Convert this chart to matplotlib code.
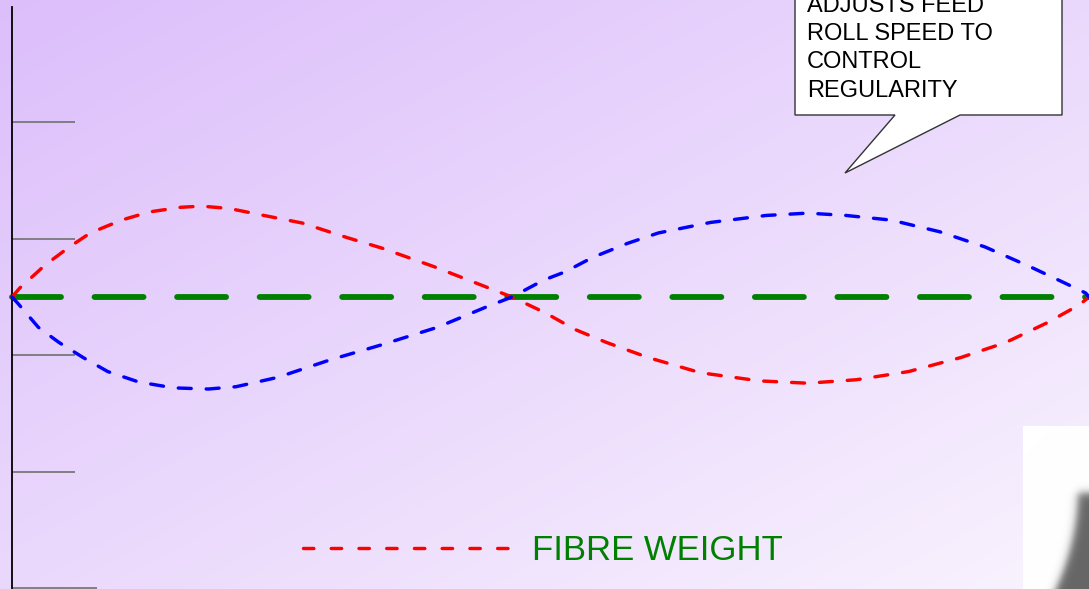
import numpy as np
import matplotlib
matplotlib.use("Agg")
import matplotlib.pyplot as plt
from matplotlib.lines import Line2D
from matplotlib.patches import Polygon

plt.rcParams["font.family"] = ["Liberation Sans", "DejaVu Sans"]

# position along the cycle (deg) and deviation for the two wave traces
red_x = [0, 2.6, 11.1, 19.2, 26.2, 36.6, 45.9, 56.4, 63.3, 72.6, 84.2, 97.0,
         112.0, 123.6, 141.1, 158.5, 167.1, 177.8, 188.3, 198.7, 212.7, 230.1,
         249.8, 266.0, 282.3, 299.7, 317.1, 332.2, 346.1, 356.6, 360]
red_y = [0, 0.077, 0.275, 0.43, 0.55, 0.66, 0.73, 0.77, 0.78, 0.76, 0.70, 0.635,
         0.51, 0.42, 0.26, 0.086, 0, -0.13, -0.28, -0.39, -0.52, -0.65,
         -0.72, -0.74, -0.71, -0.64, -0.52, -0.39, -0.22, -0.07, 0]

blue_x = [0, 1.8, 8.8, 15.7, 23.8, 32.0, 42.4, 54.0, 65.6, 74.9, 88.8, 106.3,
          123.6, 142.2, 158.5, 167.1, 177.8, 184.8, 194.1, 205.7, 216.1, 233.5,
          252.1, 266.0, 278.8, 293.9, 310.1, 325.2, 340.3, 351.9, 358.9, 360]
blue_y = [0, -0.05, -0.26, -0.39, -0.52, -0.64, -0.73, -0.78, -0.79, -0.77, -0.69, -0.54,
          -0.41, -0.26, -0.086, 0, 0.146, 0.215, 0.34, 0.46, 0.55, 0.64,
          0.70, 0.72, 0.70, 0.66, 0.56, 0.43, 0.26, 0.12, 0.034, 0]

target_x = [0, 360]
target_y = [0, 0]

y_ticks = [1.5, 0.5, -0.5, -1.5]
legend_label = "FIBRE WEIGHT"
callout_lines = ["ADJUSTS FEED", "ROLL SPEED TO", "CONTROL", "REGULARITY"]

W, H = 1089, 589
fig = plt.figure(figsize=(W / 100, H / 100), dpi=100)

# diagonal lilac gradient background
gx = np.linspace(0, 1, W)[None, :]
gy = np.linspace(0, 1, H)[:, None]
t = (gx + gy) / 2
c0 = np.array([220, 190, 251]) / 255
c1 = np.array([249, 243, 254]) / 255
bg = c0[None, None, :] + (c1 - c0)[None, None, :] * t[:, :, None]
fig.figimage(bg, 0, 0, zorder=-10)

ax = fig.add_axes([12 / W, 0, (W - 12) / W, (H - 7) / H])
ax.patch.set_alpha(0)
ax.set_xlim(0, 360)
ax.set_ylim((297 - H) / 116.5, 290 / 116.5)
for s in ["top", "right", "bottom"]:
    ax.spines[s].set_visible(False)
ax.spines["left"].set_linewidth(1.3)
ax.spines["left"].set_color("black")
ax.set_xticks([])
ax.set_yticks(y_ticks)
ax.set_yticks([-2.5], minor=True)
ax.set_yticklabels([])
ax.tick_params(axis="y", which="major", direction="in", length=45, width=1.2, color="#707070")
ax.tick_params(axis="y", which="minor", direction="in", length=61, width=1.2, color="#707070")

ax.plot(target_x, target_y, color="#008000", lw=4.2, dashes=(8.4, 5.75),
        solid_capstyle="round", dash_capstyle="round", zorder=2, clip_on=False)
ax.plot(red_x, red_y, color="#ff0000", lw=2.45, dashes=(3.8, 4.4),
        dash_capstyle="round", zorder=3, clip_on=False)
ax.plot(blue_x, blue_y, color="#0000ff", lw=2.45, dashes=(3.8, 4.4),
        dash_capstyle="round", zorder=3, clip_on=False)

# legend sample uses a slightly shorter dash than the trace
red_key = Line2D([], [], color="#ff0000", lw=2.45, dashes=(3.05, 5.1), dash_capstyle="round")
leg = ax.legend([red_key], [legend_label], loc="center left",
                bbox_to_anchor=(303 / W, 1 - 551 / H), bbox_transform=fig.transFigure,
                frameon=False, fontsize=25, handlelength=6.05, handletextpad=0.55,
                borderpad=0, borderaxespad=0, labelcolor="#008000")

# overlay in pixel units for the callout and the picture corner
ov = fig.add_axes([0, 0, 1, 1], zorder=5)
ov.set_xlim(0, W)
ov.set_ylim(H, 0)
ov.axis("off")
ov.patch.set_alpha(0)

bubble = [(795, -5), (795, 115), (895, 115), (845, 173), (960, 115), (1062, 115), (1062, -5)]
ov.add_patch(Polygon(bubble, closed=True, facecolor="white", edgecolor="#333333", lw=1.0))
for i, line in enumerate(callout_lines):
    ov.text(807, 12 + 28.2 * i, line, fontsize=17, color="black", va="baseline", ha="left")

# white picture fragment with a blurred grey shape
px = np.arange(1023, W) + 0.5
py = np.arange(426, H) + 0.5
PX, PY = np.meshgrid(px, py)
edge = 1078 - 22 * np.clip((PY - 490) / 99, 0, None) ** 2
shade = 1 / (1 + np.exp(-(PX - edge) / 2.5)) / (1 + np.exp(-(PY - 493) / 2.5))
img = 1 - shade[:, :, None] * (1 - 0x66 / 255) * np.ones(3)[None, None, :]
ov.imshow(img, extent=(1023, W, H, 426), interpolation="bilinear", zorder=1)
ov.set_xlim(0, W)
ov.set_ylim(H, 0)

fig.savefig("out.png", dpi=100)
